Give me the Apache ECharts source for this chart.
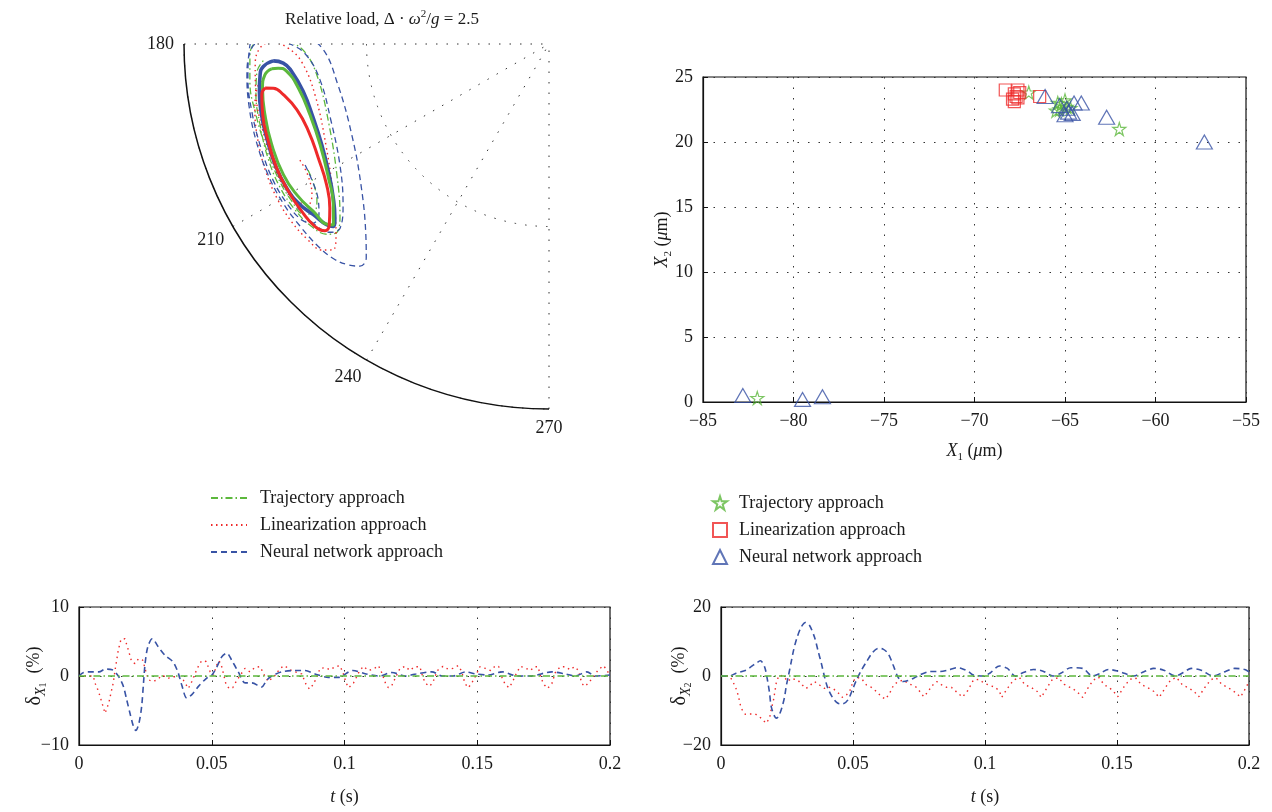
<!DOCTYPE html>
<html>
<head>
<meta charset="utf-8">
<script src="https://cdn.jsdelivr.net/npm/echarts@6/dist/echarts.min.js"></script>
<style>
html, body { margin: 0; padding: 0; background: #fff; }
#main { width: 1272px; height: 812px; }
</style>
</head>
<body>
<div id="main"></div>
<script>
// polar orbits: [r (relative to clearance), angle (deg)]
const trajTransient = [[0.745,207.6],[0.751,211.0],[0.766,213.9],[0.791,215.6],[0.817,214.8],[0.826,211.2],[0.828,206.3],[0.826,200.2],[0.826,193.6],[0.826,187.2],[0.820,182.1],[0.803,179.6],[0.765,178.8],[0.710,179.6],[0.669,181.9],[0.640,188.4],[0.642,200.2],[0.683,211.7],[0.740,219.3],[0.776,221.6],[0.801,220.6],[0.821,217.4],[0.831,213.2],[0.835,208.0],[0.831,202.1],[0.822,195.7],[0.815,189.9],[0.804,185.5],[0.782,183.2]];
const linTransient = [[0.753,205.0],[0.752,208.5],[0.770,212.5],[0.794,213.7],[0.814,211.7],[0.825,207.9],[0.823,202.7],[0.819,196.3],[0.815,189.9],[0.807,184.1],[0.792,180.8],[0.759,179.6],[0.715,180.9],[0.679,184.2],[0.656,192.3],[0.671,204.4],[0.722,215.0],[0.784,221.9],[0.818,223.6],[0.840,222.2],[0.851,219.1],[0.857,214.7],[0.857,209.9],[0.851,204.3],[0.840,198.3],[0.826,192.7],[0.809,188.6],[0.786,186.8]];
const nnTransient = [[0.746,206.4],[0.749,209.9],[0.761,213.7],[0.784,216.5],[0.812,217.2],[0.831,215.5],[0.840,211.7],[0.843,206.2],[0.839,199.9],[0.835,192.9],[0.830,186.4],[0.822,181.5],[0.806,178.3],[0.752,177.1],[0.683,177.9],[0.622,181.0],[0.589,191.0],[0.595,204.8],[0.644,216.9],[0.725,226.2],[0.771,229.5],[0.799,229.6],[0.818,227.7],[0.833,225.0],[0.841,221.2],[0.845,216.2],[0.849,210.9],[0.849,205.0],[0.845,198.1],[0.839,191.5],[0.832,185.9],[0.819,181.5],[0.797,179.6],[0.759,179.2],[0.710,180.0],[0.666,182.6],[0.635,188.9],[0.633,199.2],[0.662,210.1],[0.716,218.0],[0.763,221.4],[0.791,220.7],[0.810,217.7],[0.822,212.9]];
const nnCycle = [[0.757,183.5],[0.785,184.5],[0.796,186.1],[0.804,189.3],[0.811,193.8],[0.815,198.4],[0.820,203.8],[0.820,208.8],[0.812,212.8],[0.797,215.9],[0.785,219.1],[0.774,220.2],[0.756,219.1],[0.726,215.5],[0.698,210.0],[0.681,203.9],[0.677,197.4],[0.686,190.9],[0.709,186.1],[0.730,184.1],[0.757,183.5]];
const trajCycle = [[0.763,185.1],[0.783,186.2],[0.794,188.7],[0.802,194.0],[0.808,199.9],[0.811,206.2],[0.805,210.9],[0.792,215.4],[0.781,219.3],[0.771,220.0],[0.737,216.7],[0.707,211.3],[0.685,203.7],[0.683,196.5],[0.697,190.0],[0.723,185.9],[0.745,185.1],[0.763,185.1]];
const linCycle = [[0.787,188.8],[0.799,190.0],[0.808,193.9],[0.814,199.1],[0.820,204.5],[0.820,209.5],[0.818,214.1],[0.813,217.9],[0.799,219.8],[0.779,219.4],[0.750,216.8],[0.721,212.3],[0.705,206.3],[0.701,199.9],[0.714,194.6],[0.741,190.8],[0.765,189.1],[0.787,188.8]];

// steady positions X1, X2 (um)
const trajPts = [[-82.0,0.3],[-67.0,23.8],[-65.4,23.0],[-65.3,22.5],[-65.0,23.2],[-64.9,22.7],[-65.2,22.9],[-64.7,22.6],[-65.5,22.4],[-62.0,21.0]];
const linPts = [[-68.3,24.0],[-67.8,23.7],[-67.6,24.0],[-67.9,23.3],[-67.7,23.5],[-67.5,23.8],[-67.8,23.1],[-67.6,23.4],[-66.4,23.5]];
const nnPts = [[-82.8,0.5],[-79.5,0.2],[-78.4,0.4],[-66.1,23.5],[-65.3,22.8],[-64.5,23.0],[-64.1,23.0],[-64.8,22.3],[-64.6,22.2],[-65.0,22.1],[-64.9,22.6],[-62.7,21.9],[-57.3,20.0]];

// errors vs time [t (s), %]
const trajErr = [[0,0],[0.2,0]];
const dx1Lin = [[0,0],[0.0054,0],[0.0060,-1],[0.0070,-1.9],[0.0079,-2.9],[0.0085,-3.7],[0.0098,-5.4],[0.0107,-4.5],[0.0114,-3.6],[0.0123,-2],[0.0129,-1],[0.0136,0.9],[0.0142,2.3],[0.0148,3.75],[0.0158,5.3],[0.0173,5.4],[0.0186,3.75],[0.0198,2.1],[0.0211,1.8],[0.0224,2.5],[0.0240,2.3],[0.0251,0.8],[0.0261,-0.5],[0.0274,-0.8],[0.0293,-0.6],[0.0314,0.1],[0.0337,-0.3],[0.0374,0],[0.0393,-0.6],[0.0412,-1.8],[0.0425,-0.8],[0.0440,0.6],[0.0452,1.6],[0.0462,2.2],[0.0479,2.1],[0.0494,0.6],[0.0506,0.1],[0.0519,1.6],[0.0528,2.2],[0.0538,1.3],[0.0553,-1.1],[0.0565,-1.8],[0.0579,-1.7],[0.0592,-0.8],[0.0607,0.1],[0.0625,1.1],[0.0644,0.6],[0.0663,1.25],[0.0682,1.35],[0.0701,-0.1],[0.0713,-0.8],[0.0739,0.1],[0.0757,1.1],[0.0774,1.5],[0.0795,0.9],[0.0814,0.6],[0.0839,0.3],[0.0855,-1.2],[0.0868,-1.9],[0.0883,-1.2],[0.0896,-0.1],[0.0908,1.1],[0.0927,1.2],[0.0946,0.9],[0.0965,1.35],[0.0983,1.5],[0.0995,0.4],[0.1006,-1],[0.1016,-1.7],[0.1034,-1],[0.1046,-0.1],[0.1056,0.7],[0.1071,1.4],[0.109,0.8],[0.1109,1.0],[0.1128,1.5],[0.1138,0.7],[0.1154,-1],[0.1165,-1.7],[0.1179,-1.3],[0.119,-0.4],[0.1209,1.1],[0.1229,1.4],[0.1246,0.8],[0.1265,1.35],[0.1284,1.35],[0.1296,-0.3],[0.1306,-1.1],[0.1321,-1.5],[0.1334,-0.8],[0.135,0.8],[0.1371,1.4],[0.139,1.0],[0.1409,1.1],[0.1428,1.5],[0.1441,0.7],[0.1453,-1],[0.1465,-1.7],[0.1475,-1.3],[0.149,-0.3],[0.151,1.35],[0.1531,1.1],[0.155,0.8],[0.1569,1.5],[0.1581,1.35],[0.1594,-0.3],[0.1604,-1.1],[0.1619,-1.7],[0.1631,-1],[0.165,0.6],[0.1663,1.4],[0.1684,1.1],[0.17,0.8],[0.1716,1.35],[0.1729,1.35],[0.1741,-0.4],[0.1753,-1.3],[0.1765,-1.8],[0.1781,-1.1],[0.1794,0.5],[0.1813,1.35],[0.1831,1.35],[0.185,0.9],[0.1866,1.35],[0.1881,0.8],[0.1894,-1.1],[0.1906,-1.5],[0.1919,-1],[0.1938,-0.1],[0.1956,0.9],[0.1975,1.5],[0.1988,0.9],[0.2,0]];
const dx1NN = [[0,0],[0.0017,0.5],[0.004,0.6],[0.0075,0.6],[0.0100,1.0],[0.0125,0.9],[0.0148,0],[0.0167,-1.5],[0.0180,-3.5],[0.0192,-5.4],[0.0205,-7.3],[0.0214,-7.9],[0.0226,-6.8],[0.0236,-4.4],[0.0243,-1],[0.0249,1.8],[0.0259,4.2],[0.0276,5.4],[0.0299,4.2],[0.0324,3],[0.0355,2],[0.0374,0.4],[0.0387,-1.3],[0.0406,-3.2],[0.0425,-2.7],[0.0450,-1.5],[0.0481,-0.3],[0.0500,0.1],[0.0519,1.3],[0.0538,2.8],[0.0557,3.3],[0.0575,2.3],[0.0600,0.6],[0.0626,-1],[0.0651,-1],[0.0688,-1.6],[0.0707,-0.6],[0.0726,0],[0.0764,0.6],[0.0814,0.8],[0.0852,0.8],[0.0889,0.3],[0.0940,-0.2],[0.0977,-0.2],[0.1031,0.8],[0.1081,0.3],[0.1131,0],[0.1178,0.5],[0.1231,0],[0.1269,0.3],[0.1329,0.6],[0.1369,0],[0.1409,0],[0.1456,0.6],[0.1494,0.3],[0.154,0.15],[0.1594,0.6],[0.165,0],[0.170,0],[0.1781,0.6],[0.1831,0.3],[0.1869,0],[0.1913,0.6],[0.1944,0],[0.2,0.15]];
const dx2Lin = [[0,0],[0.0032,0],[0.0042,-1.2],[0.0051,-2.6],[0.006,-4.2],[0.0067,-6.2],[0.0076,-9.3],[0.0092,-11.1],[0.0114,-11],[0.013,-11],[0.0152,-12.2],[0.0171,-13.7],[0.0184,-12.2],[0.019,-9.8],[0.0199,-6.9],[0.0206,-3.6],[0.0211,-1.2],[0.0224,0.3],[0.0241,-0.4],[0.0253,-1.6],[0.0266,-0.7],[0.0291,-1.2],[0.0308,-2.6],[0.0323,-3.6],[0.0339,-2.6],[0.0354,-1.6],[0.0373,-2.6],[0.0392,-3.6],[0.0405,-3.1],[0.0427,-3.8],[0.0443,-4.8],[0.046,-6.2],[0.0475,-5.5],[0.049,-4],[0.05,-1.6],[0.0513,-0.4],[0.0532,-0.7],[0.0551,-2.6],[0.057,-3.3],[0.0589,-4.5],[0.0608,-6],[0.0623,-6.7],[0.0639,-5],[0.0654,-2.6],[0.0671,-1.6],[0.069,-1.2],[0.0709,-2.1],[0.0722,-2.6],[0.0741,-3.3],[0.0753,-4.5],[0.0768,-6],[0.0785,-4.5],[0.0798,-2.9],[0.0817,-1.6],[0.0836,-2.6],[0.0855,-3.3],[0.0873,-3.3],[0.0895,-4.8],[0.0915,-6.1],[0.0935,-4.2],[0.0956,-1.2],[0.0975,-1.0],[0.0994,-1.9],[0.1013,-2.6],[0.104,-3.3],[0.1055,-4.5],[0.1063,-6.2],[0.1085,-3.6],[0.1108,-1.2],[0.113,-0.4],[0.1152,-2.6],[0.1175,-3.3],[0.1198,-4.5],[0.1213,-6.2],[0.1235,-3.4],[0.1255,-1.0],[0.1278,-0.5],[0.13,-2.4],[0.1322,-3.3],[0.1345,-4.3],[0.137,-6.2],[0.139,-3.5],[0.141,-1.2],[0.143,-0.3],[0.1452,-2.6],[0.147,-3.3],[0.1488,-4.6],[0.1503,-6.0],[0.1525,-3.3],[0.1548,-1.0],[0.157,-0.5],[0.1592,-2.5],[0.1615,-3.3],[0.164,-4.5],[0.166,-6.2],[0.1682,-3.5],[0.1703,-1.2],[0.1725,-0.4],[0.1748,-2.6],[0.177,-3.4],[0.1792,-4.5],[0.181,-6.0],[0.1832,-3.4],[0.1855,-1.1],[0.1875,-0.5],[0.1898,-2.5],[0.192,-3.3],[0.1945,-4.6],[0.1968,-6.1],[0.199,-3.2],[0.2,-1.5]];
const dx2NN = [[0,0],[0.0032,0],[0.0057,0.8],[0.0095,1.7],[0.0114,2.7],[0.0133,3.7],[0.0149,4.4],[0.0165,2.7],[0.0177,-1.6],[0.0184,-5],[0.019,-8.8],[0.0203,-11.7],[0.0211,-12.2],[0.0222,-11],[0.0232,-8.8],[0.0241,-6],[0.0247,-3],[0.0256,0.3],[0.0266,4.1],[0.0275,7.5],[0.0287,10.9],[0.0304,14.2],[0.032,15.5],[0.0335,14.7],[0.0354,11.3],[0.0367,7.5],[0.038,3.7],[0.0392,-0.2],[0.0405,-3.6],[0.0424,-6.4],[0.0443,-7.9],[0.046,-8.1],[0.0481,-6.9],[0.05,-3.6],[0.0513,-1.2],[0.0532,1.7],[0.0551,4.1],[0.0573,6.7],[0.0595,8],[0.0614,7.8],[0.0633,6.5],[0.0652,3.2],[0.0671,-0.4],[0.069,-1.6],[0.0709,-1.3],[0.0728,-0.7],[0.0753,0.3],[0.0791,1.3],[0.0829,1.3],[0.0861,1.7],[0.0893,2.4],[0.0911,2.2],[0.0937,1.3],[0.0956,0.3],[0.0994,0],[0.1018,0.8],[0.1055,2.9],[0.1085,2.2],[0.1115,0],[0.1145,1.0],[0.1183,1.9],[0.122,1.4],[0.1257,0],[0.1287,0.8],[0.1325,2.4],[0.137,2.2],[0.1407,0],[0.1437,0.8],[0.1467,1.9],[0.1504,1.4],[0.1527,0.8],[0.1564,0],[0.1602,1.25],[0.1639,2.2],[0.1677,1.7],[0.1722,0],[0.1751,1.0],[0.1781,2.2],[0.1819,1.7],[0.1864,0],[0.1901,1.0],[0.1946,2.2],[0.1984,1.9],[0.2,1.2]];

const names = ["Trajectory approach", "Linearization approach", "Neural network approach"];
const GREEN = "#5cb83c", RED = "#ee2a2a", BLUE = "#3853a5";
const serif = "Liberation Serif, DejaVu Serif, serif";
const INK = "#1a1a1a";
const dotted = { color: "#333", type: [1.5, 9], width: 1 };
const dashDot = [7, 3, 1.5, 3];

const myChart = echarts.init(document.getElementById("main"));

const tickFmt = (v) => (v < 0 ? "\u2212" + Math.abs(v) : String(v));
const richName = {
  i: { fontFamily: serif, fontStyle: "italic", fontSize: 18, color: INK, lineHeight: 24, verticalAlign: "middle" },
  n: { fontFamily: serif, fontSize: 18, color: INK, lineHeight: 24, verticalAlign: "middle" },
  d: { fontFamily: serif, fontSize: 20, color: INK, lineHeight: 24, verticalAlign: "middle" },
  s: { fontFamily: serif, fontSize: 11, color: INK, lineHeight: 24, verticalAlign: "bottom" },
  si: { fontFamily: serif, fontStyle: "italic", fontSize: 14, color: INK, lineHeight: 25, verticalAlign: "bottom" },
  ss: { fontFamily: serif, fontSize: 10, color: INK, lineHeight: 27, verticalAlign: "bottom" },
};

function cartAxis(extra) {
  return Object.assign({
    type: "value",
    axisLine: { show: true, onZero: false, lineStyle: { color: "#111", width: 1.2 } },
    axisTick: { show: true, inside: true, length: 5, lineStyle: { color: "#111" } },
    axisLabel: { color: INK, fontFamily: serif, fontSize: 18, margin: 10, formatter: tickFmt },
    splitLine: { show: true, lineStyle: dotted },
    nameLocation: "middle",
    nameMoveOverlap: false,
    nameTextStyle: { rich: richName },
  }, extra);
}

function lineSeries(name, data, color, type, width, opts) {
  return Object.assign({
    name: name,
    type: "line",
    data: data,
    symbol: "none",
    showSymbol: false,
    clip: true,
    lineStyle: { color: color, type: type, width: width },
    itemStyle: { color: color },
    emphasis: { disabled: true },
  }, opts);
}

const hollow = (c) => ({ color: "rgba(0,0,0,0)", borderColor: c, borderWidth: 1.2 });
const starPath = "path://M50,2 L61,36 L97,36 L68,57 L79,92 L50,70 L21,92 L32,57 L3,36 L39,36 Z";

let option = {
  animation: false,
  backgroundColor: "#fff",
  textStyle: { fontFamily: serif },
  graphic: [{
    type: "text",
    x: 382, y: 20,
    style: {
      text: "{n|Relative load, \u0394 \u00b7 }{i|\u03c9}{sup|2}{n|/}{i|g}{n| = 2.5}",
      align: "center", verticalAlign: "middle",
      rich: {
        n: { fontFamily: serif, fontSize: 17, fill: INK, lineHeight: 22, verticalAlign: "middle" },
        i: { fontFamily: serif, fontSize: 17, fontStyle: "italic", fill: INK, lineHeight: 22, verticalAlign: "middle" },
        sup: { fontFamily: serif, fontSize: 11, fill: INK, lineHeight: 22, verticalAlign: "top" },
      },
    },
  }],
  polar: { center: [549, 44], radius: 365 },
  angleAxis: {
    type: "value", min: 180, max: 270, interval: 30,
    startAngle: 180, endAngle: 270, clockwise: false,
    axisLine: { show: true, lineStyle: { color: "#111", width: 1.5 } },
    axisTick: { show: false },
    axisLabel: { color: INK, fontFamily: serif, fontSize: 18, margin: 10 },
    splitLine: { show: true, lineStyle: dotted },
  },
  radiusAxis: {
    type: "value", min: 0, max: 1, interval: 0.5,
    axisLine: { show: false }, axisTick: { show: false }, axisLabel: { show: false },
    splitLine: { show: true, lineStyle: dotted },
  },
  grid: [
    { left: 703, right: 26, top: 77, bottom: 410, show: true, borderColor: "#111", borderWidth: 1.2 },
    { left: 79, right: 662, top: 607, bottom: 67, show: true, borderColor: "#111", borderWidth: 1.2 },
    { left: 721, right: 23, top: 607, bottom: 67, show: true, borderColor: "#111", borderWidth: 1.2 },
  ],
  xAxis: [
    cartAxis({ gridIndex: 0, min: -85, max: -55, interval: 5, name: "{i|X}{s|1}{n| (}{i|\u03bc}{n|m)}", nameGap: 37 }),
    cartAxis({ gridIndex: 1, min: 0, max: 0.2, interval: 0.05, name: "{i|t}{n| (s)}", nameGap: 40 }),
    cartAxis({ gridIndex: 2, min: 0, max: 0.2, interval: 0.05, name: "{i|t}{n| (s)}", nameGap: 40 }),
  ],
  yAxis: [
    cartAxis({ gridIndex: 0, min: 0, max: 25, interval: 5, name: "{i|X}{s|2}{n| (}{i|\u03bc}{n|m)}", nameGap: 29 }),
    cartAxis({ gridIndex: 1, min: -10, max: 10, interval: 10, name: "{d|\u03b4}{si|X}{ss|1}{n|  (%)}", nameGap: 31 }),
    cartAxis({ gridIndex: 2, min: -20, max: 20, interval: 20, name: "{d|\u03b4}{si|X}{ss|2}{n|  (%)}", nameGap: 28 }),
  ],
  legend: [
    {
      data: names,
      orient: "vertical", left: 205, top: 483, itemGap: 7,
      itemWidth: 36, itemHeight: 10,
      itemStyle: { opacity: 0 },
      textStyle: { fontFamily: serif, fontSize: 18, color: INK, lineHeight: 20, padding: [0, 0, 0, 8] },
      selectedMode: false,
    },
    {
      data: names.map((n) => n + " "),
      orient: "vertical", left: 707, top: 488, itemGap: 7,
      itemWidth: 14, itemHeight: 14,
      formatter: (n) => n.trim(),
      textStyle: { fontFamily: serif, fontSize: 18, color: INK, lineHeight: 20, padding: [0, 0, 0, 7] },
      selectedMode: false,
    },
  ],
  series: [
    // polar transients (legend icons come from these)
    lineSeries(names[0], trajTransient, GREEN, dashDot, 1.3, { coordinateSystem: "polar", smooth: 0.4 }),
    lineSeries(names[1], linTransient, RED, [1.5, 3.5], 1.4, { coordinateSystem: "polar", smooth: 0.4 }),
    lineSeries(names[2], nnTransient, BLUE, [6, 4], 1.3, { coordinateSystem: "polar", smooth: 0.4 }),
    // steady orbits
    lineSeries("nn cycle", nnCycle, BLUE, "solid", 3.6, { coordinateSystem: "polar", smooth: 0.5 }),
    lineSeries("traj cycle", trajCycle, GREEN, "solid", 3, { coordinateSystem: "polar", smooth: 0.5 }),
    lineSeries("lin cycle", linCycle, RED, "solid", 3, { coordinateSystem: "polar", smooth: 0.5 }),
    // positions
    { name: names[0] + " ", type: "scatter", xAxisIndex: 0, yAxisIndex: 0, data: trajPts, symbol: starPath, symbolSize: 13, itemStyle: hollow(GREEN) },
    { name: names[1] + " ", type: "scatter", xAxisIndex: 0, yAxisIndex: 0, data: linPts, symbol: "rect", symbolSize: 12, itemStyle: hollow(RED) },
    { name: names[2] + " ", type: "scatter", xAxisIndex: 0, yAxisIndex: 0, data: nnPts, symbol: "triangle", symbolSize: [16, 14], itemStyle: hollow(BLUE) },
    // errors
    lineSeries(names[1], dx1Lin, RED, [1.5, 4], 1.4, { xAxisIndex: 1, yAxisIndex: 1 }),
    lineSeries(names[2], dx1NN, BLUE, [6, 4], 1.6, { xAxisIndex: 1, yAxisIndex: 1, smooth: 0.3 }),
    lineSeries(names[0], trajErr, GREEN, dashDot, 1.5, { xAxisIndex: 1, yAxisIndex: 1 }),
    lineSeries(names[1], dx2Lin, RED, [1.5, 4], 1.4, { xAxisIndex: 2, yAxisIndex: 2 }),
    lineSeries(names[2], dx2NN, BLUE, [6, 4], 1.6, { xAxisIndex: 2, yAxisIndex: 2, smooth: 0.3 }),
    lineSeries(names[0], trajErr, GREEN, dashDot, 1.5, { xAxisIndex: 2, yAxisIndex: 2 }),
  ],
};
myChart.setOption(option);
</script>
</body>
</html>
